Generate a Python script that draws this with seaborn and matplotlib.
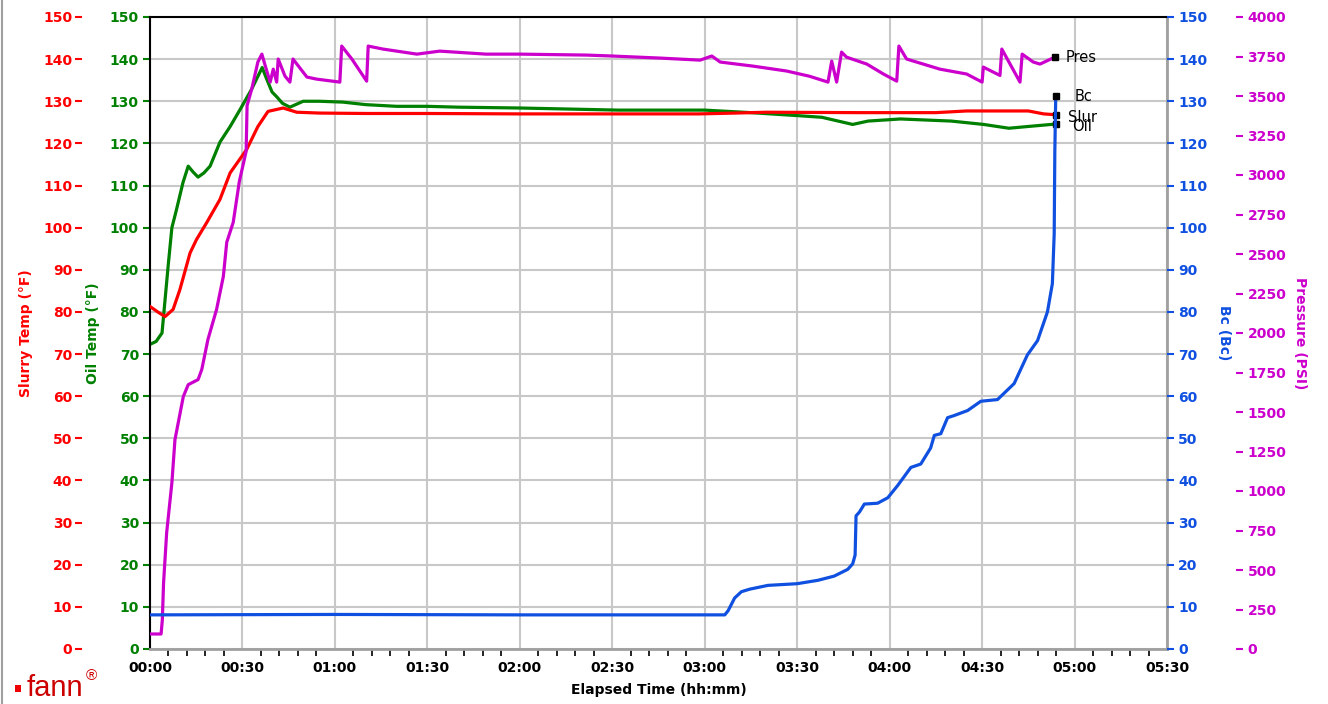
import matplotlib.pyplot as plt
import seaborn as sns
from matplotlib.ticker import MultipleLocator, FuncFormatter
from matplotlib.patches import Rectangle
from matplotlib.lines import Line2D

# elapsed time in minutes
slurry_t = [0, 2.5, 4.9, 7.5, 9.7, 13, 15.1, 18.4, 22.7, 26, 31.4, 35, 38.3, 43.2, 47.6,
            55, 70, 90, 120, 150, 178, 190, 200, 230, 255, 265, 285, 290, 294]
slurry = [81.3, 80.0, 78.9, 80.6, 85.3, 94.0, 97.2, 101.2, 106.7, 113.0, 118.6, 124.0, 127.6,
          128.4, 127.4, 127.2, 127.1, 127.1, 127.0, 127.0, 127.0, 127.2, 127.4, 127.3, 127.3,
          127.7, 127.7, 127.0, 126.8]

oil_t = [0, 2, 3.9, 4.9, 5.9, 7.1, 8.5, 10.7, 12.4, 14, 15.6, 17.5, 19.5, 22.7, 26, 29.2, 33,
         36.4, 37.9, 39.6, 41.2, 43, 45.4, 49.7, 55, 62.6, 70, 80, 90, 100, 120, 152, 180, 195,
         210, 218, 228, 233, 243.5, 260, 270.5, 278.7, 284.7, 294]
oil = [72.3, 73.0, 75.0, 83.0, 91.0, 100.0, 104.0, 110.7, 114.6, 113.2, 112.0, 113.0, 114.6,
       120.3, 124.0, 128.0, 132.9, 138.0, 135.2, 132.2, 131.0, 129.5, 128.6, 130.0, 130.0,
       129.8, 129.2, 128.8, 128.8, 128.6, 128.4, 127.9, 127.9, 127.3, 126.6, 126.2, 124.5,
       125.3, 125.8, 125.3, 124.5, 123.6, 124.0, 124.6]

pres_t = [0, 3.6, 4.0, 4.4, 5.4, 7.1, 8.1, 10.8, 12.4, 15.6, 16.8, 18.8, 21.6, 23.8, 24.9, 27.0,
          29.0, 31.2, 31.5, 33.0, 35.0, 36.3, 38.0, 39.0, 40.0, 41.1, 41.6, 43.8, 45.4, 46.4,
          50.9, 54.0, 61.6, 62.2, 65.5, 70.3, 70.8, 75.6, 86.6, 94.0, 109.0, 120.0, 141.7,
          150.0, 165.5, 178.5, 182.3, 185.0, 195.7, 206.6, 214.0, 220.0, 221.2, 222.8, 224.4,
          226.0, 232.6, 238.0, 242.3, 243.0, 245.5, 256.3, 265.0, 270.0, 270.4, 275.8, 276.4,
          282.3, 283.0, 286.6, 288.8, 293.6]
pressure = [95, 95, 184, 418, 735, 1052, 1325, 1597, 1673, 1705, 1769, 1959, 2149, 2358, 2574,
            2700, 2960, 3150, 3440, 3543, 3715, 3765, 3651, 3588, 3670, 3588, 3734, 3626, 3588,
            3734, 3620, 3607, 3588, 3816, 3734, 3594, 3816, 3797, 3765, 3784, 3765, 3765, 3759,
            3753, 3740, 3727, 3753, 3715, 3689, 3658, 3625, 3588, 3721, 3588, 3778, 3746, 3702,
            3639, 3594, 3816, 3734, 3670, 3639, 3588, 3683, 3630, 3797, 3588, 3765, 3715, 3702,
            3746]

bc_t = [0, 60, 120, 186.5, 187.6, 189.7, 191.9, 194.6, 200.5, 210, 216.7, 222, 226.4, 228,
        228.8, 229.1, 230.2, 231.8, 236.1, 239.4, 242.6, 246.9, 250.1, 253.3, 254.5, 256.6,
        258.8, 260.9, 265.3, 269.6, 275, 280.4, 284.7, 288, 291.2, 292.8, 293.4, 293.6, 293.9]
bc = [8.1, 8.2, 8.1, 8.1, 9.1, 12.1, 13.6, 14.2, 15.1, 15.5, 16.3, 17.3, 18.9, 20.2, 22.3, 31.6,
      32.5, 34.4, 34.6, 35.9, 38.8, 43.1, 43.9, 47.7, 50.7, 51.1, 54.9, 55.4, 56.6, 58.8, 59.2,
      63.0, 69.8, 73.2, 80.0, 86.7, 98.6, 118.0, 131.3]

RED = '#ff0000'
GREEN = '#008000'
BLUE = '#1050e0'
MAG = '#cc00cc'
LW = 2.3

sns.set_style('white')
plt.rcParams['font.family'] = ['DejaVu Sans']
plt.rcParams['font.weight'] = 'bold'
plt.rcParams['axes.labelweight'] = 'bold'

fig = plt.figure(figsize=(13.28, 7.04), dpi=100)
ax = fig.add_axes([150 / 1328, 1 - 649 / 704, 1017 / 1328, 632 / 704])
ax_red = ax.twinx()
ax_p = ax.twinx()
ax_bc = ax.twinx()

# lines
sns.lineplot(x=oil_t, y=oil, ax=ax, color=GREEN, linewidth=LW)
sns.lineplot(x=slurry_t, y=slurry, ax=ax_red, color=RED, linewidth=LW)
sns.lineplot(x=pres_t, y=pressure, ax=ax_p, color=MAG, linewidth=LW)
sns.lineplot(x=bc_t, y=bc, ax=ax_bc, color=BLUE, linewidth=LW)

# x axis
ax.set_xlim(0, 330)
ax.xaxis.set_major_locator(MultipleLocator(30))
ax.xaxis.set_minor_locator(MultipleLocator(6))
ax.xaxis.set_major_formatter(FuncFormatter(lambda m, _: f'{int(m) // 60:02d}:{int(m) % 60:02d}'))
ax.tick_params(axis='x', which='major', length=0, pad=9, labelsize=10, colors='black')
ax.tick_params(axis='x', which='minor', length=5, width=1.2, color='black', bottom=True)
ax.set_xlabel('Elapsed Time (hh:mm)', fontsize=10, color='black', va='top')
ax.xaxis.set_label_coords(0.5, -(683 - 649) / 632)

ax.grid(True, which='major', color='#c8c8c8', linewidth=1.5)
ax.set_axisbelow(True)

# oil temp axis (host)
ax.set_ylim(0, 150)
ax.yaxis.set_major_locator(MultipleLocator(10))
ax.tick_params(axis='y', colors=GREEN, length=5, width=1.5, pad=3, labelsize=10, left=True)
ax.set_ylabel('Oil Temp (°F)', color=GREEN, fontsize=10)
ax.yaxis.set_label_coords(-0.049, 0.5)
ax.spines['top'].set_color('black')
ax.spines['left'].set_color('black')
ax.spines['right'].set_color('#a0a0a0')
ax.spines['bottom'].set_color('#a0a0a0')
for s in ['top', 'left']:
    ax.spines[s].set_linewidth(1.5)
for s in ['right', 'bottom']:
    ax.spines[s].set_linewidth(2)

# slurry temp axis (outer left)
ax_red.set_ylim(0, 150)
ax_red.yaxis.set_major_locator(MultipleLocator(10))
ax_red.yaxis.tick_left()
ax_red.yaxis.set_label_position('left')
ax_red.spines['left'].set_position(('outward', 49))
ax_red.tick_params(axis='y', colors=RED, length=5, width=1.5, pad=2, labelsize=10)
ax_red.set_ylabel('Slurry Temp (°F)', color=RED, fontsize=10)
ax_red.yaxis.set_label_coords(-0.115, 0.5)

# Bc axis (inner right)
ax_bc.set_ylim(0, 150)
ax_bc.yaxis.set_major_locator(MultipleLocator(10))
ax_bc.tick_params(axis='y', colors=BLUE, length=5, width=1.5, pad=3, labelsize=10)
ax_bc.set_ylabel('Bc (Bc)', color=BLUE, fontsize=10, rotation=270, va='bottom')
ax_bc.yaxis.set_label_coords(1.049, 0.5)

# pressure axis (outer right)
ax_p.set_ylim(0, 4000)
ax_p.yaxis.set_major_locator(MultipleLocator(250))
ax_p.spines['right'].set_position(('outward', 50))
ax_p.tick_params(axis='y', colors=MAG, length=5, width=1.5, pad=3, labelsize=10)
ax_p.set_ylabel('Pressure (PSI)', color=MAG, fontsize=10, rotation=270, va='bottom')
ax_p.yaxis.set_label_coords(1.124, 0.5)

for a in [ax_red, ax_p, ax_bc]:
    a.grid(False)
    for s in a.spines.values():
        s.set_visible(False)

# end markers and series names
ends = [
    (ax_p, pres_t, pressure, 'Pres', (8, -0.5)),
    (ax_bc, bc_t, bc, 'Bc', (13.5, -0.7)),
    (ax_red, slurry_t, slurry, 'Slur', (8.5, -2)),
    (ax, oil_t, oil, 'Oil', (11.5, -2)),
]
for a, xs, ys, name, off in ends:
    a.plot(xs[-1], ys[-1], marker='s', color='black', markersize=5, linestyle='none',
           zorder=5, clip_on=False)
    a.annotate(name, xy=(xs[-1], ys[-1]), xytext=off, textcoords='offset points',
               va='center', ha='left', fontsize=10.5, fontweight='normal', color='black')

# fann logo and window border
fig.add_artist(Rectangle((15 / 1328, 12 / 704), 6 / 1328, 7 / 704,
                         transform=fig.transFigure, color='#ee0000', lw=0))
fig.text(27 / 1328, 8 / 704, 'fann', fontsize=21, color='#cc0000',
         family='Liberation Sans', fontweight='normal', va='baseline')
fig.text(86 / 1328, 24 / 704, '®', fontsize=11, color='#cc0000',
         family='Liberation Sans', fontweight='normal', va='baseline')
fig.add_artist(Line2D([2 / 1328, 2 / 1328], [0, 1], transform=fig.transFigure,
                      color='#a0a0a0', lw=1.5))

fig.savefig('out.png', dpi=100)
